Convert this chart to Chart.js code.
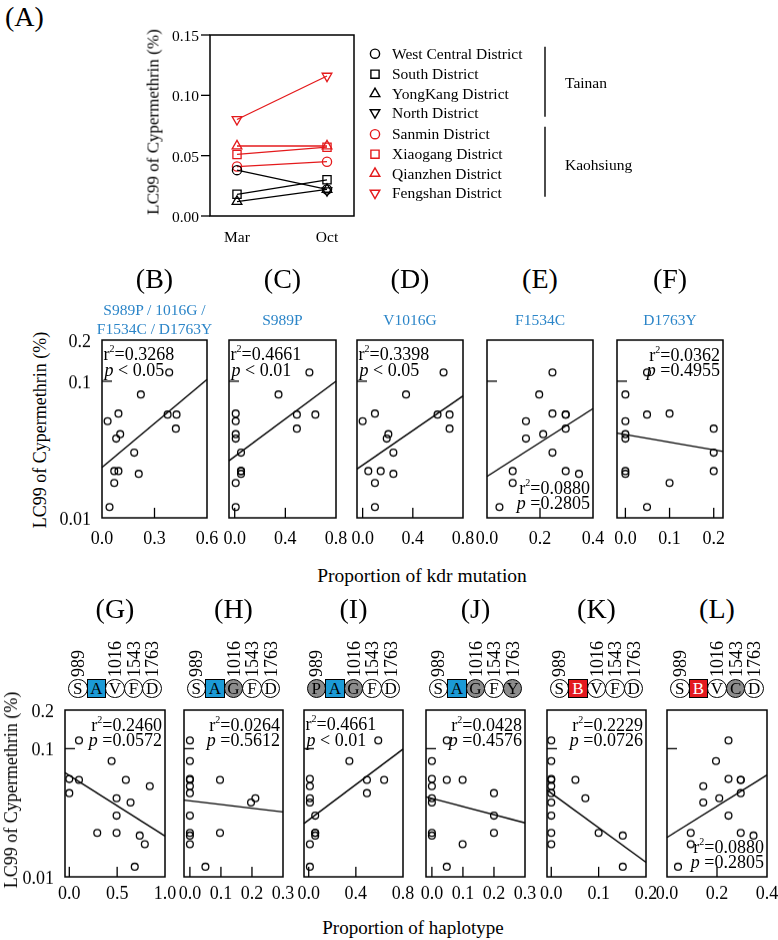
<!DOCTYPE html>
<html>
<head>
<meta charset="utf-8">
<script src="https://cdn.jsdelivr.net/npm/chart.js@4.4.1/dist/chart.umd.min.js"></script>
<style>
html, body { margin: 0; padding: 0; background: #fff; }
#fig { position: relative; width: 778px; height: 940px; overflow: hidden; font-family: "Liberation Serif", "DejaVu Serif", serif; color: #000; }
#fig canvas { position: absolute; }
.t { position: absolute; white-space: nowrap; line-height: 1; }
.t sup { font-size: 10px; line-height: 0; vertical-align: 8px; }
.res { position: absolute; box-sizing: border-box; width: 19.5px; height: 19.5px; border: 1.4px solid #000; border-radius: 50%; background: #fff; font-size: 17px; line-height: 17px; text-align: center; }
.res.sq { border-radius: 0; }
</style>
</head>
<body>
<div id="fig"></div>
<script>
// ---- panel A: LC99 by district and month ----
const districts = ['West Central District', 'South District', 'YongKang District', 'North District',
                   'Sanmin District', 'Xiaogang District', 'Qianzhen District', 'Fengshan District'];
const cities = ['Tainan', 'Kaohsiung'];
const months = ['Mar', 'Oct'];
const lc99Mar = [0.038, 0.018, 0.012, null, 0.041, 0.051, 0.058, 0.080];
const lc99Oct = [0.022, 0.030, 0.022, 0.021, 0.045, 0.057, 0.058, 0.116];
const yTicksA = [0, 0.05, 0.10, 0.15];

// ---- panels B-F: proportion of kdr mutation vs LC99 ----
const mutations = ['S989P / 1016G /<br>F1534C / D1763Y', 'S989P', 'V1016G', 'F1534C', 'D1763Y'];
const ptsB = [[0.032, 0.051], [0.043, 0.012], [0.070, 0.018], [0.070, 0.022], [0.094, 0.022], [0.081, 0.038], [0.104, 0.041],
              [0.094, 0.058], [0.184, 0.030], [0.210, 0.021], [0.222, 0.080], [0.375, 0.057], [0.426, 0.057], [0.422, 0.045], [0.384, 0.116]];
const ptsC = [[0.008, 0.012], [0.008, 0.018], [0.05, 0.022], [0.05, 0.021], [0.05, 0.030], [0.008, 0.038], [0.008, 0.041],
              [0.008, 0.051], [0.008, 0.058], [0.346, 0.080], [0.491, 0.057], [0.491, 0.045], [0.637, 0.057], [0.59, 0.116], [0.05, 0.022]];
const ptsD = [[0, 0.051], [0.045, 0.022], [0.098, 0.058], [0.098, 0.018], [0.098, 0.012], [0.144, 0.022], [0.192, 0.038],
              [0.205, 0.041], [0.245, 0.030], [0.245, 0.021], [0.346, 0.080], [0.597, 0.057], [0.693, 0.057], [0.693, 0.045], [0.645, 0.116]];
const ptsE = [[0.047, 0.012], [0.097, 0.022], [0.097, 0.018], [0.147, 0.051], [0.147, 0.038], [0.197, 0.080], [0.212, 0.041],
              [0.247, 0.116], [0.247, 0.058], [0.247, 0.030], [0.297, 0.057], [0.297, 0.045], [0.297, 0.022], [0.347, 0.021], [0.297, 0.057]];
const ptsF = [[0, 0.080], [0, 0.051], [0, 0.041], [0, 0.038], [0, 0.022], [0.049, 0.057], [0.049, 0.012],
              [0.049, 0.116], [0.1, 0.058], [0.1, 0.018], [0.2, 0.045], [0.2, 0.030], [0.2, 0.022], [0, 0.021]];
const fitB = [[0, 0.0234], [0.6, 0.103]];
const fitC = [[-0.045, 0.0262], [0.8, 0.100]];
const fitD = [[-0.045, 0.0228], [0.8, 0.078]];
const fitE = [[0, 0.0201], [0.4, 0.063]];
const fitF = [[-0.019, 0.0417], [0.221, 0.0306]];
const xTicksB = [0, 0.3, 0.6];
const xTicksC = [0, 0.4, 0.8];
const xTicksD = [0, 0.4, 0.8];
const xTicksE = [0, 0.2, 0.4];
const xTicksF = [0, 0.1, 0.2];
const r2Kdr = ['0.3268', '0.4661', '0.3398', '0.0880', '0.0362'];
const pKdr = ['< 0.05', '< 0.01', '< 0.05', '=0.2805', '=0.4955'];

// ---- panels G-L: proportion of haplotype vs LC99 ----
const haplotypes = ['SAVFD', 'SAGFD', 'PAGFD', 'SAGFY', 'SBVFD', 'SBVCD'];
const sites = ['989', '', '1016', '1543', '1763'];
const ptsG = [[0, 0.058], [0, 0.045], [0.101, 0.116], [0.101, 0.057], [0.292, 0.022], [0.442, 0.080], [0.494, 0.041],
              [0.494, 0.030], [0.494, 0.022], [0.591, 0.057], [0.64, 0.038], [0.684, 0.012], [0.736, 0.021], [0.789, 0.018], [0.841, 0.051]];
const ptsH = [[0, 0.116], [0, 0.080], [0, 0.058], [0, 0.051], [0, 0.045], [0, 0.030], [0, 0.022], [0, 0.018],
              [0.05, 0.012], [0.097, 0.057], [0.097, 0.022], [0.197, 0.038], [0.211, 0.041], [0, 0.057], [0, 0.021]];
const ptsI = [[0.01, 0.012], [0.01, 0.018], [0.01, 0.038], [0.01, 0.041], [0.01, 0.051], [0.01, 0.058], [0.055, 0.030],
              [0.055, 0.022], [0.345, 0.080], [0.494, 0.057], [0.494, 0.045], [0.64, 0.057], [0.59, 0.116], [0.055, 0.022], [0.055, 0.021]];
const ptsJ = [[0, 0.080], [0, 0.058], [0, 0.051], [0, 0.041], [0, 0.038], [0, 0.022], [0.048, 0.116], [0.048, 0.057],
              [0.048, 0.012], [0.099, 0.057], [0.099, 0.018], [0.2, 0.045], [0.2, 0.030], [0.2, 0.022], [0, 0.021]];
const ptsK = [[0, 0.116], [0, 0.080], [0, 0.058], [0, 0.051], [0, 0.045], [0, 0.038], [0, 0.030], [0, 0.022],
              [0, 0.018], [0, 0.057], [0.051, 0.057], [0.072, 0.041], [0.1, 0.022], [0.151, 0.021], [0.151, 0.012]];
const ptsL = [[0.044, 0.012], [0.095, 0.022], [0.095, 0.018], [0.145, 0.051], [0.145, 0.038], [0.196, 0.080], [0.209, 0.041],
              [0.246, 0.116], [0.246, 0.058], [0.246, 0.030], [0.295, 0.057], [0.295, 0.045], [0.295, 0.022], [0.346, 0.021], [0.295, 0.057]];
const fitG = [[-0.045, 0.0649], [1.0, 0.0208]];
const fitH = [[-0.019, 0.0397], [0.3, 0.0321]];
const fitI = [[-0.04, 0.0261], [0.8, 0.0992]];
const fitJ = [[-0.019, 0.0421], [0.3, 0.0264]];
const fitK = [[-0.009, 0.0475], [0.2, 0.0130]];
const fitL = [[0, 0.0203], [0.4, 0.0622]];
const xTicksG = [0, 0.5, 1.0];
const xTicksH = [0, 0.1, 0.2, 0.3];
const xTicksI = [0, 0.4, 0.8];
const xTicksJ = [0, 0.1, 0.2, 0.3];
const xTicksK = [0, 0.1, 0.2];
const xTicksL = [0, 0.2, 0.4];
const r2Hap = ['0.2460', '0.0264', '0.4661', '0.0428', '0.2229', '0.0880'];
const pHap = ['=0.0572', '=0.5612', '< 0.01', '=0.4576', '=0.0726', '=0.2805'];

const yTicksLC = [0.01, 0.1, 0.2];

// layout of the small panels: box = [left, top, right, bottom], stat = corner of the r2 / p text
const kdrPanels = [
    { key: 'B', pts: ptsB, fit: fitB, xr: [0, 0.6], xt: xTicksB, box: [102, 340, 207, 517.5], stat: 'tl' },
    { key: 'C', pts: ptsC, fit: fitC, xr: [-0.045, 0.8], xt: xTicksC, box: [229, 340, 336, 517.5], stat: 'tl' },
    { key: 'D', pts: ptsD, fit: fitD, xr: [-0.045, 0.8], xt: xTicksD, box: [357, 340, 463, 517.5], stat: 'tl' },
    { key: 'E', pts: ptsE, fit: fitE, xr: [0, 0.4], xt: xTicksE, box: [487, 340, 593, 517.5], stat: 'br' },
    { key: 'F', pts: ptsF, fit: fitF, xr: [-0.019, 0.221], xt: xTicksF, box: [617, 340, 723, 517.5], stat: 'tr' },
];
const hapPanels = [
    { key: 'G', pts: ptsG, fit: fitG, xr: [-0.045, 1.0], xt: xTicksG, box: [65, 710, 165, 876.5], stat: 'tr' },
    { key: 'H', pts: ptsH, fit: fitH, xr: [-0.019, 0.3], xt: xTicksH, box: [184, 710, 283, 876.5], stat: 'tr' },
    { key: 'I', pts: ptsI, fit: fitI, xr: [-0.04, 0.8], xt: xTicksI, box: [304, 710, 403, 876.5], stat: 'tl' },
    { key: 'J', pts: ptsJ, fit: fitJ, xr: [-0.019, 0.3], xt: xTicksJ, box: [426, 710, 525, 876.5], stat: 'tr' },
    { key: 'K', pts: ptsK, fit: fitK, xr: [-0.009, 0.2], xt: xTicksK, box: [547, 710, 646, 876.5], stat: 'tr' },
    { key: 'L', pts: ptsL, fit: fitL, xr: [0, 0.4], xt: xTicksL, box: [667, 710, 767, 876.5], stat: 'br' },
];

const RED = '#e41a1c';
const BLUE_TEXT = '#2b85c8';
const fig = document.getElementById('fig');

function addText(html, x, y, size, align = 'c', extra = {}) {
    const d = document.createElement('div');
    d.className = 't';
    d.innerHTML = html;
    d.style.left = x + 'px';
    d.style.top = y + 'px';
    d.style.fontSize = size + 'px';
    const tx = align === 'l' ? '0' : align === 'r' ? '-100%' : '-50%';
    d.style.transform = `translate(${tx}, -50%)` + (extra.rotate ? ' rotate(-90deg)' : '');
    if (extra.color) d.style.color = extra.color;
    fig.appendChild(d);
    return d;
}

function addCanvas(left, top, w, h) {
    const c = document.createElement('canvas');
    c.width = w; c.height = h;
    c.style.left = left + 'px'; c.style.top = top + 'px';
    c.style.width = w + 'px'; c.style.height = h + 'px';
    fig.appendChild(c);
    return c;
}

function line(ctx, x1, y1, x2, y2) {
    ctx.beginPath(); ctx.moveTo(x1, y1); ctx.lineTo(x2, y2); ctx.stroke();
}

// frame, ticks and tick labels, drawn from the chart's own scales
function makeFrame(cfg) {
    return {
        id: 'frame',
        afterDraw(chart) {
            const { ctx, chartArea: a } = chart;
            const xs = chart.scales.x, ys = chart.scales.y;
            ctx.save();
            ctx.strokeStyle = '#000';
            ctx.fillStyle = '#000';
            ctx.lineWidth = 1.5;
            ctx.strokeRect(a.left, a.top, a.right - a.left, a.bottom - a.top);
            ctx.lineWidth = 1.3;
            ctx.font = cfg.font;
            ctx.textAlign = 'center';
            ctx.textBaseline = 'middle';
            cfg.xTicks.forEach((v, i) => {
                const px = xs.getPixelForValue(v);
                if (cfg.xTickMarks && px > a.left + 2 && px < a.right - 2) line(ctx, px, a.bottom, px, a.bottom - 10);
                ctx.fillText(cfg.xLabels[i], px, a.bottom + cfg.xGap);
            });
            ctx.textAlign = 'right';
            cfg.yTicks.forEach((v, i) => {
                const py = ys.getPixelForValue(v);
                if (cfg.inward) {
                    if (py > a.top + 2 && py < a.bottom - 2) line(ctx, a.left, py, a.left + 10, py);
                } else {
                    line(ctx, a.left - 9, py, a.left, py);
                }
                if (cfg.yLabels) ctx.fillText(cfg.yLabels[i], a.left - cfg.yGap, py + 2);
            });
            ctx.restore();
        }
    };
}

function baseOptions(pad, xr, yScale) {
    return {
        responsive: false,
        animation: false,
        events: [],
        layout: { padding: pad },
        plugins: { legend: { display: false }, tooltip: { enabled: false } },
        scales: {
            x: { type: 'linear', min: xr[0], max: xr[1], display: false },
            y: yScale,
        },
    };
}

// ---- panel A ----
(function drawPanelA() {
    const box = [210, 35, 354, 216];
    const cl = 140, ct = 25, cw = 630, ch = 230;
    const canvas = addCanvas(cl, ct, cw, ch);
    const styles = [
        ['circle', 0], ['rect', 0], ['triangle', 0], ['triangle', 180],
        ['circle', 0], ['rect', 0], ['triangle', 0], ['triangle', 180],
    ];
    const radius = { circle: 4.6, rect: 5.8, triangle: 5.6 };
    const datasets = districts.map((name, i) => {
        const color = i < 4 ? '#000' : RED;
        return {
            label: name,
            data: [{ x: 0, y: lc99Mar[i] }, { x: 1, y: lc99Oct[i] }],
            showLine: true,
            borderColor: color,
            borderWidth: 1.3,
            pointStyle: styles[i][0],
            pointRotation: styles[i][1],
            pointRadius: radius[styles[i][0]],
            pointBorderColor: color,
            pointBorderWidth: 1.3,
            pointBackgroundColor: 'rgba(0,0,0,0)',
            clip: false,
        };
    });

    const legendRows = [53.7, 74.2, 93.8, 112.5, 134.2, 154.2, 173.5, 193];
    const legendMarks = {
        id: 'legendMarks',
        afterDraw(chart) {
            const ctx = chart.ctx;
            ctx.save();
            ctx.lineWidth = 1.4;
            legendRows.forEach((ry, i) => {
                const x = 375 - cl, y = ry - ct;
                ctx.strokeStyle = i < 4 ? '#000' : RED;
                ctx.beginPath();
                const s = styles[i][0];
                if (s === 'circle') ctx.arc(x, y, 4.6, 0, Math.PI * 2);
                else if (s === 'rect') ctx.rect(x - 4.1, y - 4.1, 8.2, 8.2);
                else {
                    const d = styles[i][1] ? -1 : 1, r = 5.6;
                    ctx.moveTo(x, y - d * r);
                    ctx.lineTo(x - r * 0.866, y + d * r * 0.5);
                    ctx.lineTo(x + r * 0.866, y + d * r * 0.5);
                    ctx.closePath();
                }
                ctx.stroke();
            });
            ctx.lineWidth = 1.4;
            ctx.strokeStyle = '#000';
            line(ctx, 545 - cl, 46.7 - ct, 545 - cl, 116.7 - ct);
            line(ctx, 545 - cl, 126.7 - ct, 545 - cl, 196.7 - ct);
            ctx.restore();
        }
    };

    const frame = makeFrame({
        font: '15.5px "Liberation Serif"',
        xTicks: [0, 1], xLabels: months, xTickMarks: false, xGap: 21.5,
        yTicks: yTicksA, yLabels: yTicksA.map(v => v.toFixed(2)), inward: false, yGap: 11,
    });

    new Chart(canvas, {
        type: 'scatter',
        data: { datasets },
        options: baseOptions(
            { left: box[0] - cl, top: box[1] - ct, right: cl + cw - box[2], bottom: ct + ch - box[3] },
            [-0.3, 1.3],
            { type: 'linear', min: 0, max: 0.15, display: false }
        ),
        plugins: [frame, legendMarks],
    });

    districts.forEach((name, i) => addText(name, 392, legendRows[i], 15.5, 'l'));
    addText(cities[0], 565, 83.3, 15.5, 'l');
    addText(cities[1], 565, 165, 15.5, 'l');
    addText('(A)', 5, 17, 28, 'l');
    addText('LC99 of Cypermethrin (%)', 153, 122, 17, 'c', { rotate: true });
})();

// ---- scatter panels ----
function drawScatter(p, idx, r2, pv, showY) {
    const [l, t, r, b] = p.box;
    const padL = 50, padT = 10, padR = 22, padB = 35;
    const canvas = addCanvas(l - padL, t - padT, r - l + padL + padR, b - t + padT + padB);
    const frame = makeFrame({
        font: '18px "Liberation Serif"',
        xTicks: p.xt, xLabels: p.xt.map(v => v.toFixed(1)), xTickMarks: true, xGap: p.key < 'G' ? 21 : 17.5,
        yTicks: yTicksLC, yLabels: showY ? yTicksLC.map(String) : null, inward: true, yGap: 11,
    });
    new Chart(canvas, {
        type: 'scatter',
        data: {
            datasets: [
                {
                    data: p.fit.map(([x, y]) => ({ x, y })),
                    showLine: true, borderColor: '#000', borderWidth: 1.4, pointRadius: 0, clip: false,
                },
                {
                    data: p.pts.map(([x, y]) => ({ x, y })),
                    pointStyle: 'circle', pointRadius: 3.4, pointBorderWidth: 1.3,
                    pointBorderColor: '#000', pointBackgroundColor: 'rgba(0,0,0,0)', clip: false,
                },
            ],
        },
        options: baseOptions(
            { left: padL, top: padT, right: padR, bottom: padB },
            p.xr,
            { type: 'logarithmic', min: 0.01, max: 0.2, display: false }
        ),
        plugins: [frame],
    });

    const r2Html = `r<sup>2</sup>=${r2}`;
    const pHtml = `<i>p</i> ${pv}`;
    if (p.stat === 'tl') {
        addText(r2Html, l + 1.5, t + 13.5, 18, 'l');
        addText(pHtml, l + 2.5, t + 29.5, 18, 'l');
    } else if (p.stat === 'tr') {
        addText(r2Html, r - 3, t + 14.5, 18, 'r');
        addText(pHtml, r - 3, t + 30, 18, 'r');
    } else {
        addText(r2Html, r - 3, b - 30, 18, 'r');
        addText(pHtml, r - 3, b - 14.5, 18, 'r');
    }
}

kdrPanels.forEach((p, i) => {
    drawScatter(p, i, r2Kdr[i], pKdr[i], i === 0);
    const cx = (p.box[0] + p.box[2]) / 2;
    addText(`(${p.key})`, cx, 279, 28);
    if (i === 0) {
        const [a, b] = mutations[0].split('<br>');
        addText(a, cx, 310, 15.5, 'c', { color: BLUE_TEXT });
        addText(b, cx, 329.3, 15.5, 'c', { color: BLUE_TEXT });
    } else {
        addText(mutations[i], cx, 320, 15.5, 'c', { color: BLUE_TEXT });
    }
});

hapPanels.forEach((p, i) => {
    drawScatter(p, i, r2Hap[i], pHap[i], i === 0);
    const cx = (p.box[0] + p.box[2]) / 2;
    addText(`(${p.key})`, cx, 609, 28);
    const seq = haplotypes[i];
    for (let k = 0; k < 5; k++) {
        const x = cx + (k - 2) * 18.6;
        const ch = seq[k];
        const d = document.createElement('div');
        d.className = 'res' + (k === 1 ? ' sq' : '');
        d.textContent = ch;
        d.style.left = (x - 9.75) + 'px';
        d.style.top = (688.5 - 9.75) + 'px';
        if (ch === 'A') d.style.background = '#1b9ad6';
        else if (ch === 'B') { d.style.background = '#e3191f'; d.style.color = '#fff'; }
        else if ('PGCY'.includes(ch)) d.style.background = '#8c8c8c';
        fig.appendChild(d);
        if (sites[k]) {
            const s = document.createElement('div');
            s.className = 't';
            s.textContent = sites[k];
            s.style.fontSize = '18px';
            s.style.left = (x - 9) + 'px';
            s.style.top = '677px';
            s.style.transformOrigin = '0 0';
            s.style.transform = 'rotate(-90deg)';
            fig.appendChild(s);
        }
    }
});

addText('LC99 of Cypermethrin (%)', 40, 430, 18, 'c', { rotate: true });
addText('LC99 of Cypermethrin (%)', 11, 790, 18, 'c', { rotate: true });
addText('Proportion of kdr mutation', 422, 576, 19.5);
addText('Proportion of haplotype', 413, 927, 19);
</script>
</body>
</html>
